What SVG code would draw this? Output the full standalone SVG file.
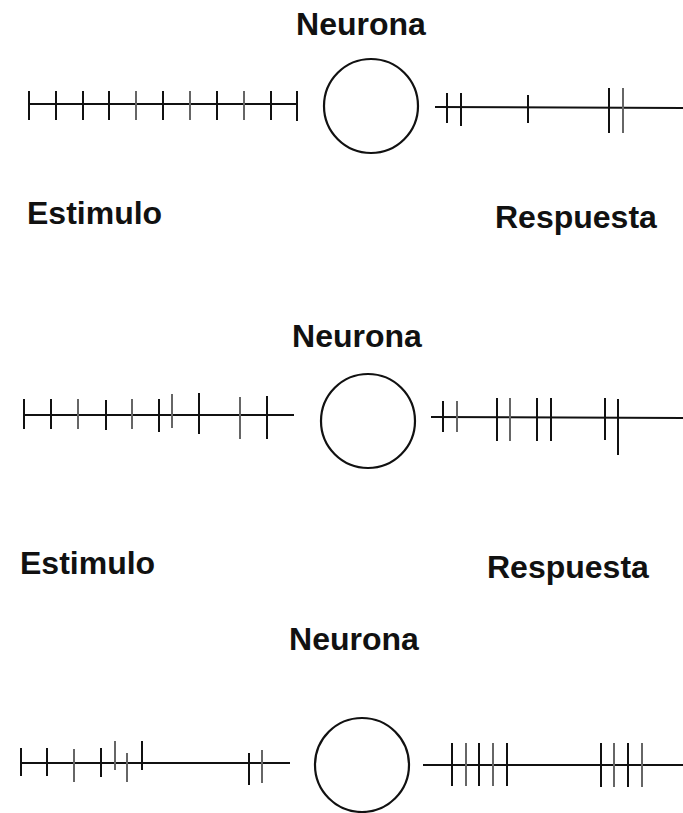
<svg xmlns="http://www.w3.org/2000/svg" width="683" height="813" viewBox="0 0 683 813">
<style>
.bg{fill:#ffffff}
.lbl{font-family:"Liberation Sans",Arial,sans-serif;font-weight:bold;font-size:32px;fill:#111}
.cell{fill:none;stroke:#111;stroke-width:2.2}
.axon{stroke:#111;stroke-width:2;fill:none}
.tk{stroke:#111;stroke-width:2;fill:none}
.tg{stroke:#666;stroke-width:2;fill:none}
</style>
<rect class="bg" x="0" y="0" width="683" height="813"/>

<!-- Panel 1 -->
<g id="neurona1">
  <text class="lbl" x="361" y="35" text-anchor="middle">Neurona</text>
  <circle class="cell" cx="371" cy="106" r="47"/>
</g>
<g id="estimulo1"><text class="lbl" x="27" y="224">Estimulo</text></g>
<g id="respuesta1"><text class="lbl" x="495" y="228">Respuesta</text></g>

<!-- Panel 2 -->
<g id="neurona2">
  <text class="lbl" x="357" y="347" text-anchor="middle">Neurona</text>
  <circle class="cell" cx="368" cy="421" r="47"/>
</g>
<g id="estimulo2"><text class="lbl" x="20" y="574">Estimulo</text></g>
<g id="respuesta2"><text class="lbl" x="487" y="578">Respuesta</text></g>

<!-- Panel 3 -->
<g id="neurona3">
  <text class="lbl" x="354" y="650" text-anchor="middle">Neurona</text>
  <circle class="cell" cx="362" cy="765" r="47"/>
</g>

<g id="connectors">
  <!-- Panel 1 stimulus train -->
  <line class="axon" x1="29" y1="104" x2="297" y2="104"/>
  <path class="tk" d="M29 91V120M56 91V120M83 91V120M109 91V120M163 91V120M217 91V120M271 91V120M297 91V121"/>
  <path class="tg" d="M136 91V120M190 91V120M244 91V120"/>
  <!-- Panel 1 response train -->
  <line class="axon" x1="435" y1="107" x2="683" y2="108"/>
  <path class="tk" d="M447 93V123M461 93V126M528 95V123M609 88V133"/>
  <path class="tg" d="M623 88V133"/>

  <!-- Panel 2 stimulus train -->
  <line class="axon" x1="25" y1="415" x2="294" y2="415"/>
  <path class="tk" d="M24 399V429M51 399V429M106 400V430M159 399V432M199 393V434M267 396V439"/>
  <path class="tg" d="M78 399V429M132 399V429M172 394V428M240 397V439"/>
  <!-- Panel 2 response train -->
  <line class="axon" x1="431" y1="417" x2="683" y2="418"/>
  <path class="tk" d="M443 401V432M497 398V441M537 398V441M551 398V441M605 398V440M618 399V455"/>
  <path class="tg" d="M457 401V432M510 398V441"/>

  <!-- Panel 3 stimulus train -->
  <line class="axon" x1="21" y1="763" x2="290" y2="763"/>
  <path class="tk" d="M21 748V776M47 748V776M101 748V777M142 741V770M249 753V785"/>
  <path class="tg" d="M74 749V782M115 741V770M127 753V782M262 750V783"/>
  <!-- Panel 3 response train -->
  <line class="axon" x1="423" y1="765" x2="683" y2="765"/>
  <path class="tk" d="M452 743V786M479 743V786M507 743V786M601 743V787M628 743V787"/>
  <path class="tg" d="M466 743V786M493 743V786M614 743V787M642 743V787"/>
</g>
</svg>
